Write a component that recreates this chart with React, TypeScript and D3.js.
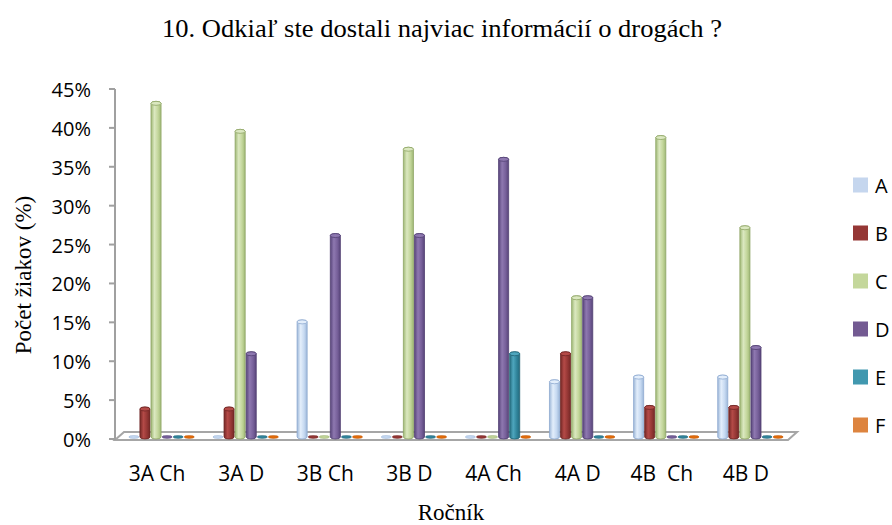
import React from 'react'
import * as d3 from 'd3'

// categories (ročník) and answers
const categories = ['3A Ch', '3A D', '3B Ch', '3B D', '4A Ch', '4A D', '4B  Ch', '4B D']
const seriesNames = ['A', 'B', 'C', 'D', 'E', 'F']

// percentages per answer, one value per category
const valuesA = [0, 0, 14.8, 0, 0, 7.1, 7.7, 7.7]
const valuesB = [3.6, 3.6, 0, 0, 0, 10.7, 3.8, 3.8]
const valuesC = [42.9, 39.3, 0, 37.0, 0, 17.9, 38.5, 26.9]
const valuesD = [0, 10.7, 25.9, 25.9, 35.7, 17.9, 0, 11.5]
const valuesE = [0, 0, 0, 0, 10.7, 0, 0, 0]
const valuesF = [0, 0, 0, 0, 0, 0, 0, 0]

const yTicks = [0, 5, 10, 15, 20, 25, 30, 35, 40, 45]

const seriesValues = [valuesA, valuesB, valuesC, valuesD, valuesE, valuesF]

// base / light / dark / stroke
const palette = [
    { base: '#c6d9f1', light: '#e3eefb', dark: '#9db7d8', stroke: '#8eaad0' },
    { base: '#953735', light: '#b44a47', dark: '#742826', stroke: '#6e2624' },
    { base: '#c3d69b', light: '#dbe8c0', dark: '#a0b976', stroke: '#8ea465' },
    { base: '#77609a', light: '#8e78b0', dark: '#58457a', stroke: '#524072' },
    { base: '#31859c', light: '#4ea6be', dark: '#246a7d', stroke: '#226375' },
    { base: '#e46c0a', light: '#f08b3e', dark: '#b55408', stroke: '#b55408' }
]
const legendColors = ['#c5d6ee', '#953735', '#c4d79b', '#735a92', '#4198af', '#dd843f']

const sans = '"Open Sans", sans-serif'
const serif = '"Liberation Serif", "Times New Roman", serif'

export default function App() {
    const width = 892, height = 525
    const left = 115, right = 788
    const depthX = 9, depthY = 8 // 3d floor offset
    const barDx = 4.5, barDy = -2

    const x0 = d3.scaleBand<string>()
        .domain(categories)
        .range([left, right])
        .paddingInner(0.21)
        .paddingOuter(0.105)

    const x1 = d3.scaleBand<string>()
        .domain(seriesNames)
        .range([0, x0.bandwidth()])

    const y = d3.scaleLinear()
        .domain([0, 45])
        .range([439, 89])

    const floorY = y(0) + 1
    const ry = 2

    const cylinder = (x: number, w: number, yt: number, yb: number) =>
        'M' + x + ',' + yb + 'L' + x + ',' + yt +
        'A' + w / 2 + ',' + ry + ' 0 0 1 ' + (x + w) + ',' + yt +
        'L' + (x + w) + ',' + yb +
        'A' + w / 2 + ',' + ry + ' 0 0 1 ' + x + ',' + yb + 'Z'

    return (
        <svg width={width} height={height} style={{ position: 'absolute', left: 0, top: 0, background: '#fff' }}>
            <defs>
                {palette.map((p, i) => (
                    <linearGradient key={i} id={'grad' + i} x1="0" x2="1" y1="0" y2="0">
                        <stop offset="0" stopColor={p.dark} />
                        <stop offset="0.35" stopColor={p.light} />
                        <stop offset="0.7" stopColor={p.base} />
                        <stop offset="1" stopColor={p.dark} />
                    </linearGradient>
                ))}
            </defs>

            {/* title */}
            <text x={442} y={37} textAnchor="middle" fontFamily={serif} fontSize={25}
                textLength={560} lengthAdjust="spacingAndGlyphs">
                10. Odkiaľ ste dostali najviac informácií o drogách ?
            </text>

            {/* floor */}
            <polygon
                points={[[left, floorY], [right, floorY], [right + depthX, floorY - depthY], [left + depthX, floorY - depthY]].map(p => p.join(',')).join(' ')}
                fill="#fff" stroke="#a6a6a6" strokeWidth={2} />

            {/* y axis */}
            <line x1={left} x2={left} y1={y(45)} y2={floorY} stroke="#a0a0a0" strokeWidth={2} />
            {yTicks.map(t => (
                <g key={t}>
                    <line x1={left - 6} x2={left} y1={y(t)} y2={y(t)} stroke="#a0a0a0" strokeWidth={2} />
                    <text x={91} y={y(t) + 8} textAnchor="end" fontFamily={sans} fontSize={20} fill="#000">{t + '%'}</text>
                </g>
            ))}

            {/* bars */}
            {categories.map((c, ci) => (
                <g key={c}>
                    {seriesNames.map((s, si) => {
                        const v = seriesValues[si][ci]
                        const p = palette[si]
                        const bx = (x0(c) as number) + (x1(s) as number) + barDx + 0.5
                        const bw = x1.bandwidth() - 1
                        const yb = y(0) + barDy
                        if (v === 0) {
                            return <ellipse key={s} cx={bx + bw / 2} cy={yb} rx={bw / 2} ry={1.4}
                                fill={p.base} stroke={p.stroke} strokeWidth={0.5} />
                        }
                        const yt = y(v) + barDy
                        return (
                            <g key={s}>
                                <path d={cylinder(bx, bw, yt, yb)} fill={'url(#grad' + si + ')'} stroke={p.stroke} strokeWidth={0.8} />
                                <ellipse cx={bx + bw / 2} cy={yt} rx={bw / 2} ry={ry} fill={p.light} stroke={p.stroke} strokeWidth={0.8} />
                            </g>
                        )
                    })}
                    <text x={(x0(c) as number) + x0.step() * 0.5 - x0.step() * 0.105} y={481}
                        textAnchor="middle" fontFamily={sans} fontSize={21} style={{ whiteSpace: 'pre' }}>{c}</text>
                </g>
            ))}

            {/* axis titles */}
            <text transform={'translate(31,' + 275 + ') rotate(-90)'} textAnchor="middle" fontFamily={serif} fontSize={23}>
                Počet žiakov (%)
            </text>
            <text x={451} y={520} textAnchor="middle" fontFamily={serif} fontSize={23}>Ročník</text>

            {/* legend */}
            {seriesNames.map((s, i) => (
                <g key={s} transform={'translate(853,' + (185 + i * 48) + ')'}>
                    <rect x={0} y={-7.5} width={15} height={15} fill={legendColors[i]} />
                    <text x={22} y={7.5} fontFamily={sans} fontSize={20}>{s}</text>
                </g>
            ))}
        </svg>
    )
}
